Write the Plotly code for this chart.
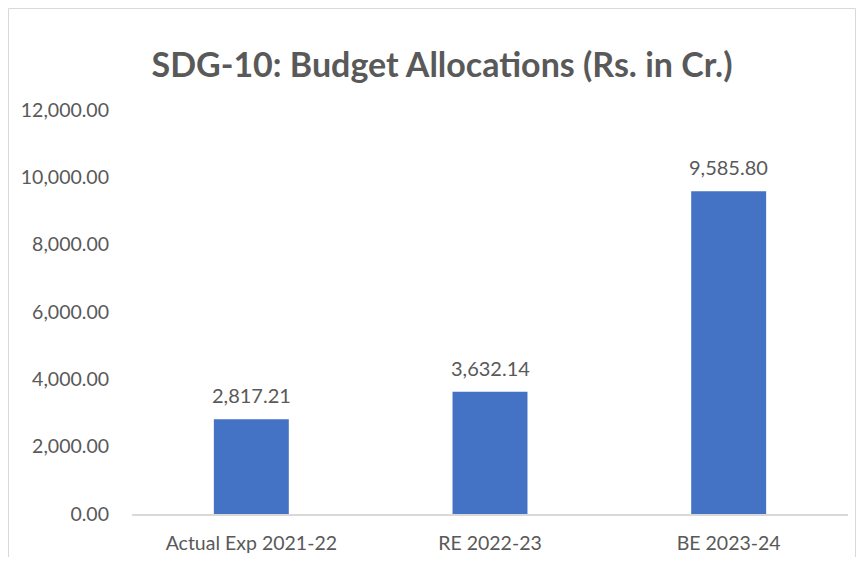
import plotly.graph_objects as go

categories = ["Actual Exp 2021-22", "RE 2022-23", "BE 2023-24"]
values = [2817.21, 3632.14, 9585.80]
tick_vals = [0, 2000, 4000, 6000, 8000, 10000, 12000]
tick_text = ["0.00", "2,000.00", "4,000.00", "6,000.00", "8,000.00", "10,000.00", "12,000.00"]

# page has 8px body margin; figure placed at (8,8)
W, H = 848, 549
OFF = 8
L, R, T, B = 132 - OFF, W - (848 - OFF), 110 - OFF, H - (514 - OFF)
pw, ph = W - L - R, H - T - B

font_family = "Lato, Open Sans, sans-serif"
gray = "#595959"

fig = go.Figure(go.Bar(
    x=categories, y=values,
    marker=dict(color="#4472C4", line=dict(width=0)),
    hoverinfo="x+y",
))

for c, v in zip(categories, values):
    fig.add_annotation(x=c, y=v, text=f"{v:,.2f}", showarrow=False,
                       yanchor="bottom", yshift=10,
                       font=dict(size=20, color=gray, family=font_family))

fig.update_layout(
    width=W, height=H,
    margin=dict(l=L, r=R, t=T, b=B, autoexpand=False),
    paper_bgcolor="white", plot_bgcolor="white",
    bargap=0.686,
    showlegend=False,
    title=dict(text="<b>SDG-10: Budget Allocations (Rs. in Cr.)</b>",
               x=(442 - OFF) / W, xanchor="center", y=1 - (65 - OFF) / H, yanchor="middle",
               font=dict(size=34, color=gray, family=font_family)),
    font=dict(family=font_family, color=gray),
)
fig.update_yaxes(range=[0, 12000], tickvals=tick_vals, ticktext=tick_text,
                 showgrid=False, zeroline=False, showline=False, automargin=False,
                 tickfont=dict(size=19.5, color=gray), ticks="", ticklabelstandoff=22)
fig.update_xaxes(showline=True, linecolor="#D9D9D9", linewidth=2, showgrid=False, automargin=False,
                 tickfont=dict(size=19.5, color=gray), ticks="", ticklabelstandoff=11)
fig.add_shape(type="rect", xref="paper", yref="paper",
              x0=(0.5 - L) / pw, x1=(W - 0.5 - L) / pw,
              y0=(H - B - (H + 5)) / ph, y1=(H - B - 0.5) / ph,
              line=dict(color="#D9D9D9", width=1), layer="below")

fig.write_html("out.html")
